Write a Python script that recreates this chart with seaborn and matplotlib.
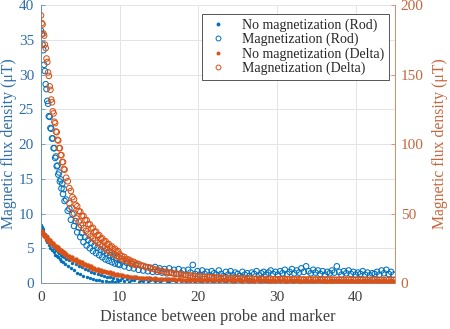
import matplotlib
matplotlib.use("Agg")
import matplotlib.pyplot as plt
from matplotlib.lines import Line2D
import seaborn as sns
import pandas as pd

# ---------------- data ----------------
distance = [
    # 0.0 - 2.9
    0.0, 0.1, 0.2, 0.3, 0.4, 0.5, 0.6, 0.7, 0.8, 0.9,
    1.0, 1.1, 1.2, 1.3, 1.4, 1.5, 1.6, 1.7, 1.8, 1.9,
    2.0, 2.1, 2.2, 2.3, 2.4, 2.5, 2.6, 2.7, 2.8, 2.9,
    # 3.0 - 9.8
    3.0, 3.2, 3.4, 3.6, 3.8, 4.0, 4.2, 4.4, 4.6, 4.8,
    5.0, 5.2, 5.4, 5.6, 5.8, 6.0, 6.2, 6.4, 6.6, 6.8,
    7.0, 7.2, 7.4, 7.6, 7.8, 8.0, 8.2, 8.4, 8.6, 8.8,
    9.0, 9.2, 9.4, 9.6, 9.8,
    # 10.0 - 44.8
    10.0, 10.3, 10.6, 10.9, 11.2, 11.5, 11.8, 12.1, 12.4, 12.7,
    13.0, 13.3, 13.6, 13.9, 14.2, 14.5, 14.8, 15.1, 15.4, 15.7,
    16.0, 16.3, 16.6, 16.9, 17.2, 17.5, 17.8, 18.1, 18.4, 18.7,
    19.0, 19.3, 19.6, 19.9, 20.2, 20.5, 20.8, 21.1, 21.4, 21.7,
    22.0, 22.3, 22.6, 22.9, 23.2, 23.5, 23.8, 24.1, 24.4, 24.7,
    25.0, 25.3, 25.6, 25.9, 26.2, 26.5, 26.8, 27.1, 27.4, 27.7,
    28.0, 28.3, 28.6, 28.9, 29.2, 29.5, 29.8, 30.1, 30.4, 30.7,
    31.0, 31.3, 31.6, 31.9, 32.2, 32.5, 32.8, 33.1, 33.4, 33.7,
    34.0, 34.3, 34.6, 34.9, 35.2, 35.5, 35.8, 36.1, 36.4, 36.7,
    37.0, 37.3, 37.6, 37.9, 38.2, 38.5, 38.8, 39.1, 39.4, 39.7,
    40.0, 40.3, 40.6, 40.9, 41.2, 41.5, 41.8, 42.1, 42.4, 42.7,
    43.0, 43.3, 43.6, 43.9, 44.2, 44.5, 44.8,
]

# Rod, no magnetization (left axis, uT)
rod_nomag = [
    8.3, 8.0, 7.5, 7.7, 6.8, 7.0, 6.2, 6.7, 5.9, 6.3,
    5.4, 5.9, 5.0, 5.6, 4.8, 5.3, 4.4, 5.0, 4.1, 4.8,
    3.9, 4.5, 3.7, 4.3, 3.5, 4.1, 3.2, 3.9, 3.0, 3.7,
    2.8, 3.5, 2.4, 3.3, 2.1, 2.9, 1.9, 2.7, 1.5, 2.5,
    1.3, 2.3, 1.0, 2.0, 0.9, 1.8, 0.7, 1.6, 0.6, 1.4,
    0.5, 1.3, 0.4, 1.1, 0.3, 1.0, 0.3, 0.9, 0.2, 0.8,
    0.3, 0.7, 0.2, 0.6, 0.3,
    0.4, 0.7, 0.3, 0.6, 0.2, 0.5,
    0.4, 0.7, 0.2, 0.5, 0.3, 0.6, 0.2, 0.4, 0.6, 0.3,
    0.5, 0.2, 0.4, 0.6, 0.3, 0.2, 0.5, 0.4, 0.2, 0.6,
    0.3, 0.4, 0.2, 0.5, 0.3, 0.4, 0.2, 0.5, 0.3, 0.2,
    0.4, 0.3, 0.5, 0.2, 0.3, 0.4, 0.2, 0.5, 0.3, 0.2,
    0.4, 0.3, 0.5, 0.2, 0.4, 0.3, 0.2, 0.5, 0.3, 0.4,
    0.2, 0.3, 0.5, 0.2, 0.4, 0.3, 0.2, 0.4, 0.3, 0.5,
    0.2, 0.4, 0.3, 0.5, 0.2, 0.3, 0.4, 0.2, 0.5, 0.3,
    0.4, 0.2, 0.3, 0.5, 0.2, 0.4, 0.3, 0.2, 0.4, 0.3,
    0.5, 0.2, 0.3, 0.4, 0.2, 0.5, 0.3, 0.4, 0.2, 0.3,
    0.4, 0.2, 0.5, 0.3, 0.2, 0.4, 0.3, 0.5, 0.2, 0.4,
    0.3, 0.2, 0.4, 0.3, 0.5, 0.2, 0.4, 0.3, 0.2, 0.4,
    0.3,
]

# Rod, magnetization (left axis, uT)
rod_mag = [
    36.3, 35.8, 34.3, 33.5, 31.4, 30.5, 28.6, 27.9, 26.2, 25.8,
    24.0, 23.9, 22.3, 22.2, 20.8, 20.8, 19.4, 19.4, 18.0, 18.2,
    16.8, 16.9, 15.6, 15.9, 14.6, 14.9, 13.6, 14.3, 12.8, 13.5,
    11.8, 12.0, 10.4, 10.7, 9.1, 9.9, 8.2, 8.9, 7.3, 8.0,
    6.6, 7.2, 5.9, 6.6, 5.4, 6.2, 5.0, 5.8, 4.6, 5.4,
    4.3, 5.1, 4.0, 4.8, 3.7, 4.6, 3.4, 4.3, 3.2, 4.0,
    3.0, 3.8, 2.8, 3.6, 2.7,
    2.6, 3.1, 2.4, 2.9, 2.2, 2.7,
    2.1, 2.6, 1.9, 2.5, 1.8, 2.3, 1.7, 2.2, 1.6, 2.3,
    1.6, 2.1, 1.5, 2.0, 1.4, 2.1, 1.5, 1.9, 1.3, 2.0,
    1.4, 1.8, 1.2, 1.9, 1.5, 2.6, 1.3, 1.7, 1.2, 1.8,
    1.3, 1.6, 1.1, 1.7, 1.4, 1.2, 1.8, 1.3, 1.0, 1.6,
    1.2, 1.7, 1.1, 1.5, 1.3, 1.0, 1.6, 1.2, 1.4, 1.0,
    1.5, 1.3, 1.7, 1.1, 1.4, 1.6, 1.2, 1.5, 1.8, 1.3,
    1.6, 1.2, 1.7, 1.4, 1.9, 1.3, 1.6, 2.0, 1.4, 1.8,
    1.5, 2.1, 1.6, 2.4, 1.7, 1.4, 1.9, 1.5, 1.8, 1.3,
    1.7, 1.2, 1.6, 1.4, 1.8, 1.5, 2.4, 1.6, 1.2, 1.7,
    1.4, 1.8, 1.3, 1.6, 1.2, 1.5, 1.3, 1.7, 1.2, 1.5,
    1.1, 1.4, 1.3, 1.6, 1.2, 1.8, 1.4, 1.9, 1.3, 1.6,
    1.2,
]

# Delta, no magnetization (right axis, uT)
delta_nomag = [
    36.6, 37.3, 35.0, 35.8, 33.8, 34.4, 32.4, 33.2, 31.0, 31.8,
    29.9, 30.7, 28.9, 29.8, 27.9, 28.7, 26.9, 27.6, 25.9, 26.7,
    24.9, 25.6, 24.0, 24.8, 23.1, 24.0, 22.3, 23.1, 21.5, 22.3,
    20.5, 21.2, 19.0, 19.7, 17.6, 18.4, 16.3, 17.0, 15.0, 15.9,
    14.1, 14.9, 13.1, 13.9, 12.1, 12.9, 11.1, 11.9, 10.4, 11.1,
    9.5, 10.3, 8.8, 9.6, 8.2, 8.9, 7.6, 8.2, 7.0, 7.7,
    6.6, 7.1, 6.1, 6.6, 5.8,
    5.6, 5.5, 5.1, 5.0, 4.6, 4.5,
    4.2, 4.2, 3.9, 3.9, 3.6, 3.7, 3.4, 3.5, 3.2, 3.3,
    3.0, 3.1, 2.9, 3.0, 2.7, 2.8, 2.6, 2.7, 2.5, 2.6,
    2.4, 2.5, 2.3, 2.4, 2.2, 2.4, 2.1, 2.3, 2.2, 2.0,
    2.3, 2.1, 2.2, 2.0, 2.3, 1.9, 2.1, 2.2, 1.9, 2.1,
    2.0, 2.2, 1.8, 2.1, 1.9, 2.0, 1.8, 2.1, 1.9, 1.8,
    2.0, 1.8, 1.9, 2.1, 1.7, 1.9, 2.0, 1.8, 1.7, 1.9,
    1.8, 2.0, 1.7, 1.9, 1.8, 1.6, 1.9, 1.8, 1.7, 1.9,
    1.7, 1.8, 1.6, 1.9, 1.7, 1.8, 1.6, 1.7, 1.9, 1.6,
    1.8, 1.7, 1.6, 1.8, 1.7, 1.5, 1.8, 1.6, 1.7, 1.5,
    1.7, 1.6, 1.8, 1.5, 1.7, 1.6, 1.5, 1.7, 1.6, 1.5,
    1.6, 1.7, 1.5, 1.6, 1.4, 1.6, 1.5, 1.7, 1.4, 1.6,
    1.5,
]

# Delta, magnetization (right axis, uT)
delta_mag = [
    192.5, 187.0, 186.0, 179.5, 178.0, 171.5, 169.0, 161.5, 159.0, 151.5,
    149.0, 141.5, 139.0, 132.0, 130.0, 123.5, 122.0, 116.0, 115.0, 109.0,
    108.5, 103.0, 102.5, 97.0, 97.0, 92.0, 92.0, 87.0, 87.0, 82.0,
    81.5, 75.8, 73.2, 68.3, 66.2, 61.8, 60.2, 56.3, 55.2, 51.8,
    51.2, 48.3, 48.2, 45.3, 45.2, 42.3, 42.2, 39.3, 39.7, 36.8,
    36.9, 34.4, 34.4, 31.9, 32.1, 29.9, 30.1, 27.9, 28.1, 25.9,
    26.3, 24.4, 24.6, 22.8, 23.0,
    20.7, 19.3, 18.7, 17.3, 16.7, 15.6,
    15.2, 14.1, 13.7, 12.6, 12.4, 11.6, 11.4, 10.6, 10.4, 9.6,
    9.4, 8.7, 8.6, 8.0, 7.9, 7.4, 7.3, 6.8, 6.8, 6.3,
    6.3, 5.8, 5.8, 5.4, 5.4, 5.0, 5.0, 4.7, 4.7, 4.4,
    4.5, 4.2, 4.3, 4.0, 4.1, 3.8, 3.9, 3.6, 3.8, 3.5,
    3.6, 3.4, 3.5, 3.3, 3.4, 3.2, 3.3, 3.1, 3.2, 3.0,
    3.1, 2.9, 3.0, 2.9, 3.0, 2.8, 2.9, 2.7, 2.9, 2.7,
    2.8, 2.6, 2.8, 2.7, 2.6, 2.8, 2.5, 2.7, 2.6, 2.5,
    2.7, 2.5, 2.6, 2.4, 2.6, 2.5, 2.4, 2.6, 2.5, 2.3,
    2.5, 2.4, 2.6, 2.3, 2.5, 2.4, 2.3, 2.5, 2.4, 2.2,
    2.4, 2.3, 2.5, 2.2, 2.4, 2.3, 2.2, 2.4, 2.3, 2.1,
    2.3, 2.2, 2.4, 2.1, 2.3, 2.2, 2.1, 2.3, 2.2, 2.1,
    2.2,
]

# second (repeat) pass of the Delta magnetization measurement
delta_mag_repeat_distance = [
    3.6, 3.9, 4.2, 4.5, 4.8, 5.1, 5.4, 5.7, 6.0, 6.3,
    6.6, 6.9, 7.2, 7.5, 7.8, 8.1, 8.4, 8.7, 9.0, 9.3,
    9.6, 9.9, 10.2, 10.5, 10.8, 11.1, 11.4, 11.7, 12.0,
]
delta_mag_repeat = [
    57.5, 54.0, 50.0, 46.5, 44.0, 41.5, 39.5, 37.5, 35.5, 33.5,
    32.0, 30.5, 29.0, 27.5, 26.3, 25.0, 23.8, 22.5, 21.5, 20.5,
    19.5, 18.5, 17.5, 16.8, 16.0, 15.3, 14.5, 13.8, 13.0,
]

labels = ["No magnetization (Rod)", "Magnetization (Rod)",
          "No magnetization (Delta)", "Magnetization (Delta)"]
x_ticks = [0, 10, 20, 30, 40]
left_ticks = [0, 5, 10, 15, 20, 25, 30, 35, 40]
right_ticks = [0, 50, 100, 150, 200]

# ---------------- style ----------------
BLUE = "#0072BD"
ORANGE = "#D95319"
BLUE_TXT = "#2f6ea8"
ORANGE_TXT = "#c5673d"

sns.set_style("white")
plt.rcParams["font.family"] = ["Liberation Serif", "DejaVu Serif"]

fig = plt.figure(figsize=(4.5, 3.29), dpi=100)
ax = fig.add_axes([0.0911, 0.1398, 0.7867, 0.845])
ax2 = ax.twinx()

df_main = pd.DataFrame({
    "distance": distance,
    "rod_nomag": rod_nomag,
    "rod_mag": rod_mag,
    "delta_nomag": delta_nomag,
    "delta_mag": delta_mag,
})
df_rep = pd.DataFrame({"distance": delta_mag_repeat_distance,
                       "delta_mag": delta_mag_repeat})

dot_s = 6
circ_s = 16
circ_lw = 0.75

sns.scatterplot(data=df_main, x="distance", y="rod_nomag", ax=ax,
                marker="o", s=dot_s, color=BLUE, linewidth=0, legend=False)
sns.scatterplot(data=df_main, x="distance", y="rod_mag", ax=ax,
                marker="o", s=circ_s, facecolor="none", edgecolor=BLUE,
                linewidth=circ_lw, legend=False)
sns.scatterplot(data=df_main, x="distance", y="delta_nomag", ax=ax2,
                marker="o", s=dot_s + 4, color=ORANGE, linewidth=0, legend=False)
sns.scatterplot(data=df_rep, x="distance", y="delta_mag", ax=ax2,
                marker="o", s=circ_s, facecolor="none", edgecolor=ORANGE,
                linewidth=circ_lw, legend=False)
sns.scatterplot(data=df_main, x="distance", y="delta_mag", ax=ax2,
                marker="o", s=circ_s, facecolor="none", edgecolor=ORANGE,
                linewidth=circ_lw, legend=False)

# axes limits / ticks
ax.set_xlim(0, 45)
ax.set_ylim(0, 40)
ax2.set_ylim(0, 200)
ax.set_xticks(x_ticks)
ax.set_yticks(left_ticks)
ax2.set_yticks(right_ticks)

ax.grid(True, color="#e2e4ea", linewidth=0.7)
ax.set_axisbelow(True)
ax2.grid(False)

for a in (ax, ax2):
    a.spines["top"].set_visible(False)
ax.spines["right"].set_visible(False)
ax.spines["left"].set_color("#5f93c2")
ax.spines["bottom"].set_color("#8a96a3")
ax2.spines["left"].set_visible(False)
ax2.spines["bottom"].set_visible(False)
ax2.spines["right"].set_color("#d98a66")
for s in ("left", "bottom"):
    ax.spines[s].set_linewidth(0.7)
ax2.spines["right"].set_linewidth(0.7)

ax.tick_params(axis="y", direction="in", length=3, width=0.6,
               colors="#5f93c2", labelcolor=BLUE_TXT, labelsize=11, pad=5)
ax.tick_params(axis="x", direction="in", length=3, width=0.6,
               colors="#8a96a3", labelcolor="#404040", labelsize=11, pad=6)
ax2.tick_params(axis="y", direction="in", length=3, width=0.6,
                colors="#d98a66", labelcolor=ORANGE_TXT, labelsize=11, pad=4)

ax.set_xlabel("Distance between probe and marker", color="#404040",
              fontsize=11.8, labelpad=3)
ax.set_ylabel("Magnetic flux density (\u03bcT)", color=BLUE_TXT,
              fontsize=11.3, labelpad=1)
ax2.set_ylabel("Magnetic flux density (\u03bcT)", color=ORANGE_TXT,
               fontsize=11.3, labelpad=6)

handles = [
    Line2D([], [], linestyle="none", marker="o", markersize=1.8,
           markerfacecolor=BLUE, markeredgecolor=BLUE),
    Line2D([], [], linestyle="none", marker="o", markersize=3.5,
           markerfacecolor="none", markeredgecolor=BLUE, markeredgewidth=0.7),
    Line2D([], [], linestyle="none", marker="o", markersize=1.8,
           markerfacecolor=ORANGE, markeredgecolor=ORANGE),
    Line2D([], [], linestyle="none", marker="o", markersize=3.5,
           markerfacecolor="none", markeredgecolor=ORANGE, markeredgewidth=0.7),
]
leg = ax2.legend(handles, labels, loc="upper right",
                 bbox_to_anchor=(0.983, 0.968), fontsize=10,
                 frameon=True, fancybox=False, framealpha=1,
                 edgecolor="#555555", borderpad=0.35, labelspacing=0.05,
                 handletextpad=0.9, handlelength=1.6, borderaxespad=0)
leg.get_frame().set_linewidth(0.7)
for t in leg.get_texts():
    t.set_color("#262626")

fig.savefig("out.png", dpi=100)
